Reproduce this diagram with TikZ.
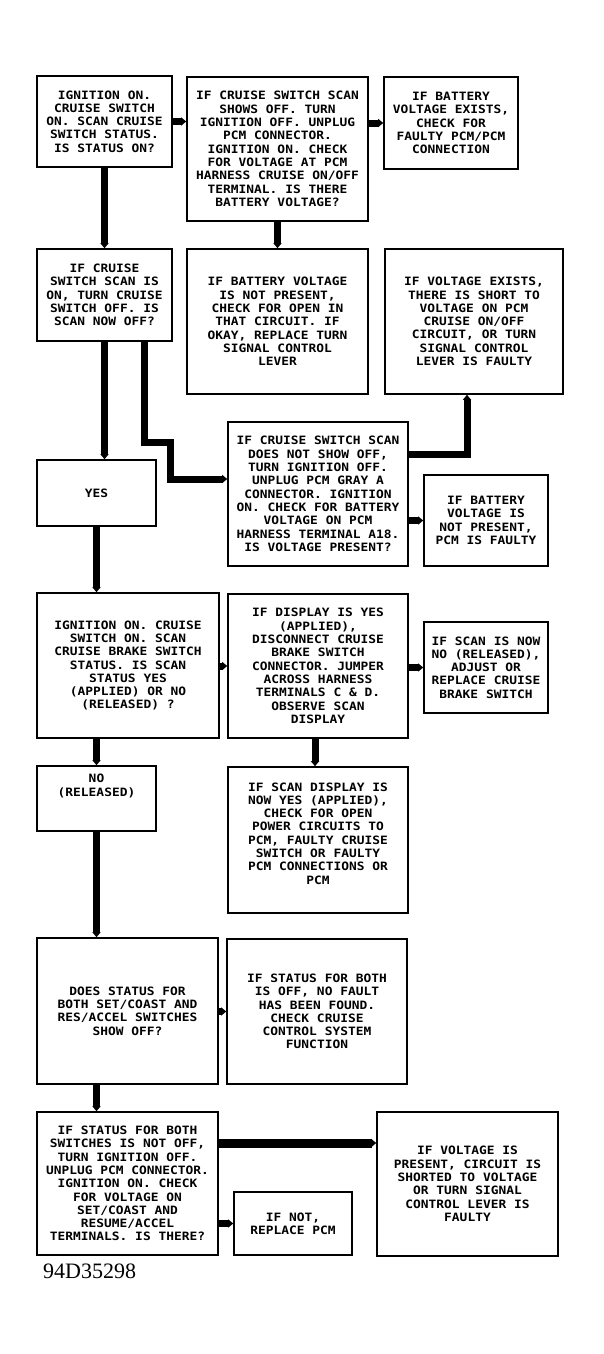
\documentclass[tikz,border=0pt]{standalone}
\usepackage{fontspec}
\setmainfont{Liberation Serif}
\newfontfamily\plotfont[FakeStretch=1.12]{DejaVu Sans Mono}
\usetikzlibrary{arrows.meta}

\begin{document}
\begin{tikzpicture}[x=1pt,y=-1pt,
		box/.style={draw,line width=1.6pt,inner sep=0pt,align=center,font=\plotfont\bfseries\fontsize{11.5}{13.3}\selectfont},
		flow/.style={line width=7pt,-{Triangle[width=8pt,length=5pt]}}]
		\useasboundingbox (0,0) rectangle (604,1354);
		% row 1
		\node[box,minimum width=135pt,minimum height=91pt] (ign) at (104.5,121.5) {IGNITION ON.\\CRUISE SWITCH\\ON. SCAN CRUISE\\SWITCH STATUS.\\IS STATUS ON?};
		\node[box,minimum width=181pt,minimum height=144pt] (showoff) at (277.5,149) {IF CRUISE SWITCH SCAN\\SHOWS OFF. TURN\\IGNITION OFF. UNPLUG\\PCM CONNECTOR.\\IGNITION ON. CHECK\\FOR VOLTAGE AT PCM\\HARNESS CRUISE ON/OFF\\TERMINAL. IS THERE\\BATTERY VOLTAGE?};
		\node[box,minimum width=134pt,minimum height=92pt] (faultypcm) at (451,123) {IF BATTERY\\VOLTAGE EXISTS,\\CHECK FOR\\FAULTY PCM/PCM\\CONNECTION};
		% row 2
		\node[box,minimum width=135pt,minimum height=92pt] (scanon) at (104.5,295) {IF CRUISE\\SWITCH SCAN IS\\ON, TURN CRUISE\\SWITCH OFF. IS\\SCAN NOW OFF?};
		\node[box,minimum width=181pt,minimum height=145pt] (openckt) at (277.5,321.5) {IF BATTERY VOLTAGE\\IS NOT PRESENT,\\CHECK FOR OPEN IN\\THAT CIRCUIT. IF\\OKAY, REPLACE TURN\\SIGNAL CONTROL\\LEVER};
		\node[box,minimum width=178pt,minimum height=145pt] (short) at (474,321.5) {IF VOLTAGE EXISTS,\\THERE IS SHORT TO\\VOLTAGE ON PCM\\CRUISE ON/OFF\\CIRCUIT, OR TURN\\SIGNAL CONTROL\\LEVER IS FAULTY};
		% row 3
		\node[box,minimum width=119pt,minimum height=66pt] (yes) at (96.5,493) {YES};
		\node[box,minimum width=180pt,minimum height=144pt] (grayA) at (318,494) {IF CRUISE SWITCH SCAN\\DOES NOT SHOW OFF,\\TURN IGNITION OFF.\\UNPLUG PCM GRAY A\\CONNECTOR. IGNITION\\ON. CHECK FOR BATTERY\\VOLTAGE ON PCM\\HARNESS TERMINAL A18.\\IS VOLTAGE PRESENT?};
		\node[box,minimum width=124pt,minimum height=91pt] (pcmfault) at (486,520.5) {IF BATTERY\\VOLTAGE IS\\NOT PRESENT,\\PCM IS FAULTY};
		% row 4
		\node[box,minimum width=182pt,minimum height=145pt] (brake) at (128,665.5) {IGNITION ON. CRUISE\\SWITCH ON. SCAN\\CRUISE BRAKE SWITCH\\STATUS. IS SCAN\\STATUS YES\\(APPLIED) OR NO\\(RELEASED) ?};
		\node[box,minimum width=180pt,minimum height=144pt] (jumper) at (318,666) {IF DISPLAY IS YES\\(APPLIED),\\DISCONNECT CRUISE\\BRAKE SWITCH\\CONNECTOR. JUMPER\\ACROSS HARNESS\\TERMINALS C \& D.\\OBSERVE SCAN\\DISPLAY};
		\node[box,minimum width=124pt,minimum height=91pt] (adjust) at (486,667.5) {IF SCAN IS NOW\\NO (RELEASED),\\ADJUST OR\\REPLACE CRUISE\\BRAKE SWITCH};
		% row 5
		\node[box,minimum width=119pt,minimum height=65pt] (released) at (96.5,798.5) {NO\\(RELEASED)\\~\\~};
		\node[box,minimum width=180pt,minimum height=146pt] (power) at (318,840) {IF SCAN DISPLAY IS\\NOW YES (APPLIED),\\CHECK FOR OPEN\\POWER CIRCUITS TO\\PCM, FAULTY CRUISE\\SWITCH OR FAULTY\\PCM CONNECTIONS OR\\PCM\\~};
		% row 6
		\node[box,minimum width=181pt,minimum height=146pt] (setcoast) at (127.5,1011) {DOES STATUS FOR\\BOTH SET/COAST AND\\RES/ACCEL SWITCHES\\SHOW OFF?};
		\node[box,minimum width=180pt,minimum height=145pt] (nofault) at (317,1011.5) {IF STATUS FOR BOTH\\IS OFF, NO FAULT\\HAS BEEN FOUND.\\CHECK CRUISE\\CONTROL SYSTEM\\FUNCTION};
		% row 7
		\node[box,minimum width=181pt,minimum height=143pt] (notoff) at (127.5,1183.5) {IF STATUS FOR BOTH\\SWITCHES IS NOT OFF,\\TURN IGNITION OFF.\\UNPLUG PCM CONNECTOR.\\IGNITION ON. CHECK\\FOR VOLTAGE ON\\SET/COAST AND\\RESUME/ACCEL\\TERMINALS. IS THERE?};
		\node[box,minimum width=118pt,minimum height=63pt] (replace) at (293,1223.5) {IF NOT,\\REPLACE PCM};
		\node[box,minimum width=181pt,minimum height=144pt] (shorted) at (467.5,1184) {IF VOLTAGE IS\\PRESENT, CIRCUIT IS\\SHORTED TO VOLTAGE\\OR TURN SIGNAL\\CONTROL LEVER IS\\FAULTY};
		% label
		\node[anchor=base west,inner sep=0pt,font=\fontsize{22}{22}\selectfont] (figno) at (43,1278) {94D35298};

		% connections
		\draw[flow] (ign.east) -- (ign.east -| showoff.west);
		\draw[flow] (showoff.east |- faultypcm.west) -- (faultypcm.west);
		\draw[flow] (ign) -- (scanon);
		\draw[flow] (showoff) -- (openckt);
		\draw[flow] (scanon.south) -- (scanon.south |- yes.north);
		\draw[flow] ([xshift=39.5pt]scanon.south) |- (170,442) |- ([yshift=15pt]grayA.west);
		\draw[flow] ([yshift=40pt]grayA.east) -| ([xshift=-7pt]short.south);
		\draw[flow] (grayA.east |- pcmfault.west) -- (pcmfault.west);
		\draw[flow] (yes.south) -- (yes.south |- brake.north);
		\draw[flow] (brake.east |- jumper.west) -- (jumper.west);
		\draw[flow] (jumper.east |- adjust.west) -- (adjust.west);
		\draw[flow] (brake.south -| released.north) -- (released.north);
		\draw[flow] ([xshift=-3pt]jumper.south) -- ([xshift=-3pt]power.north);
		\draw[flow] (released.south) -- (released.south |- setcoast.north);
		\draw[flow] (setcoast.east |- nofault.west) -- (nofault.west);
		\draw[flow] (setcoast.south -| released.south) -- (notoff.north -| released.south);
		\draw[flow,line width=9pt] ([yshift=40.5pt]notoff.east) -- ([yshift=40.5pt]notoff.east -| shorted.west);
		\draw[flow] (notoff.east |- replace.west) -- (replace.west);
\end{tikzpicture}
\end{document}
